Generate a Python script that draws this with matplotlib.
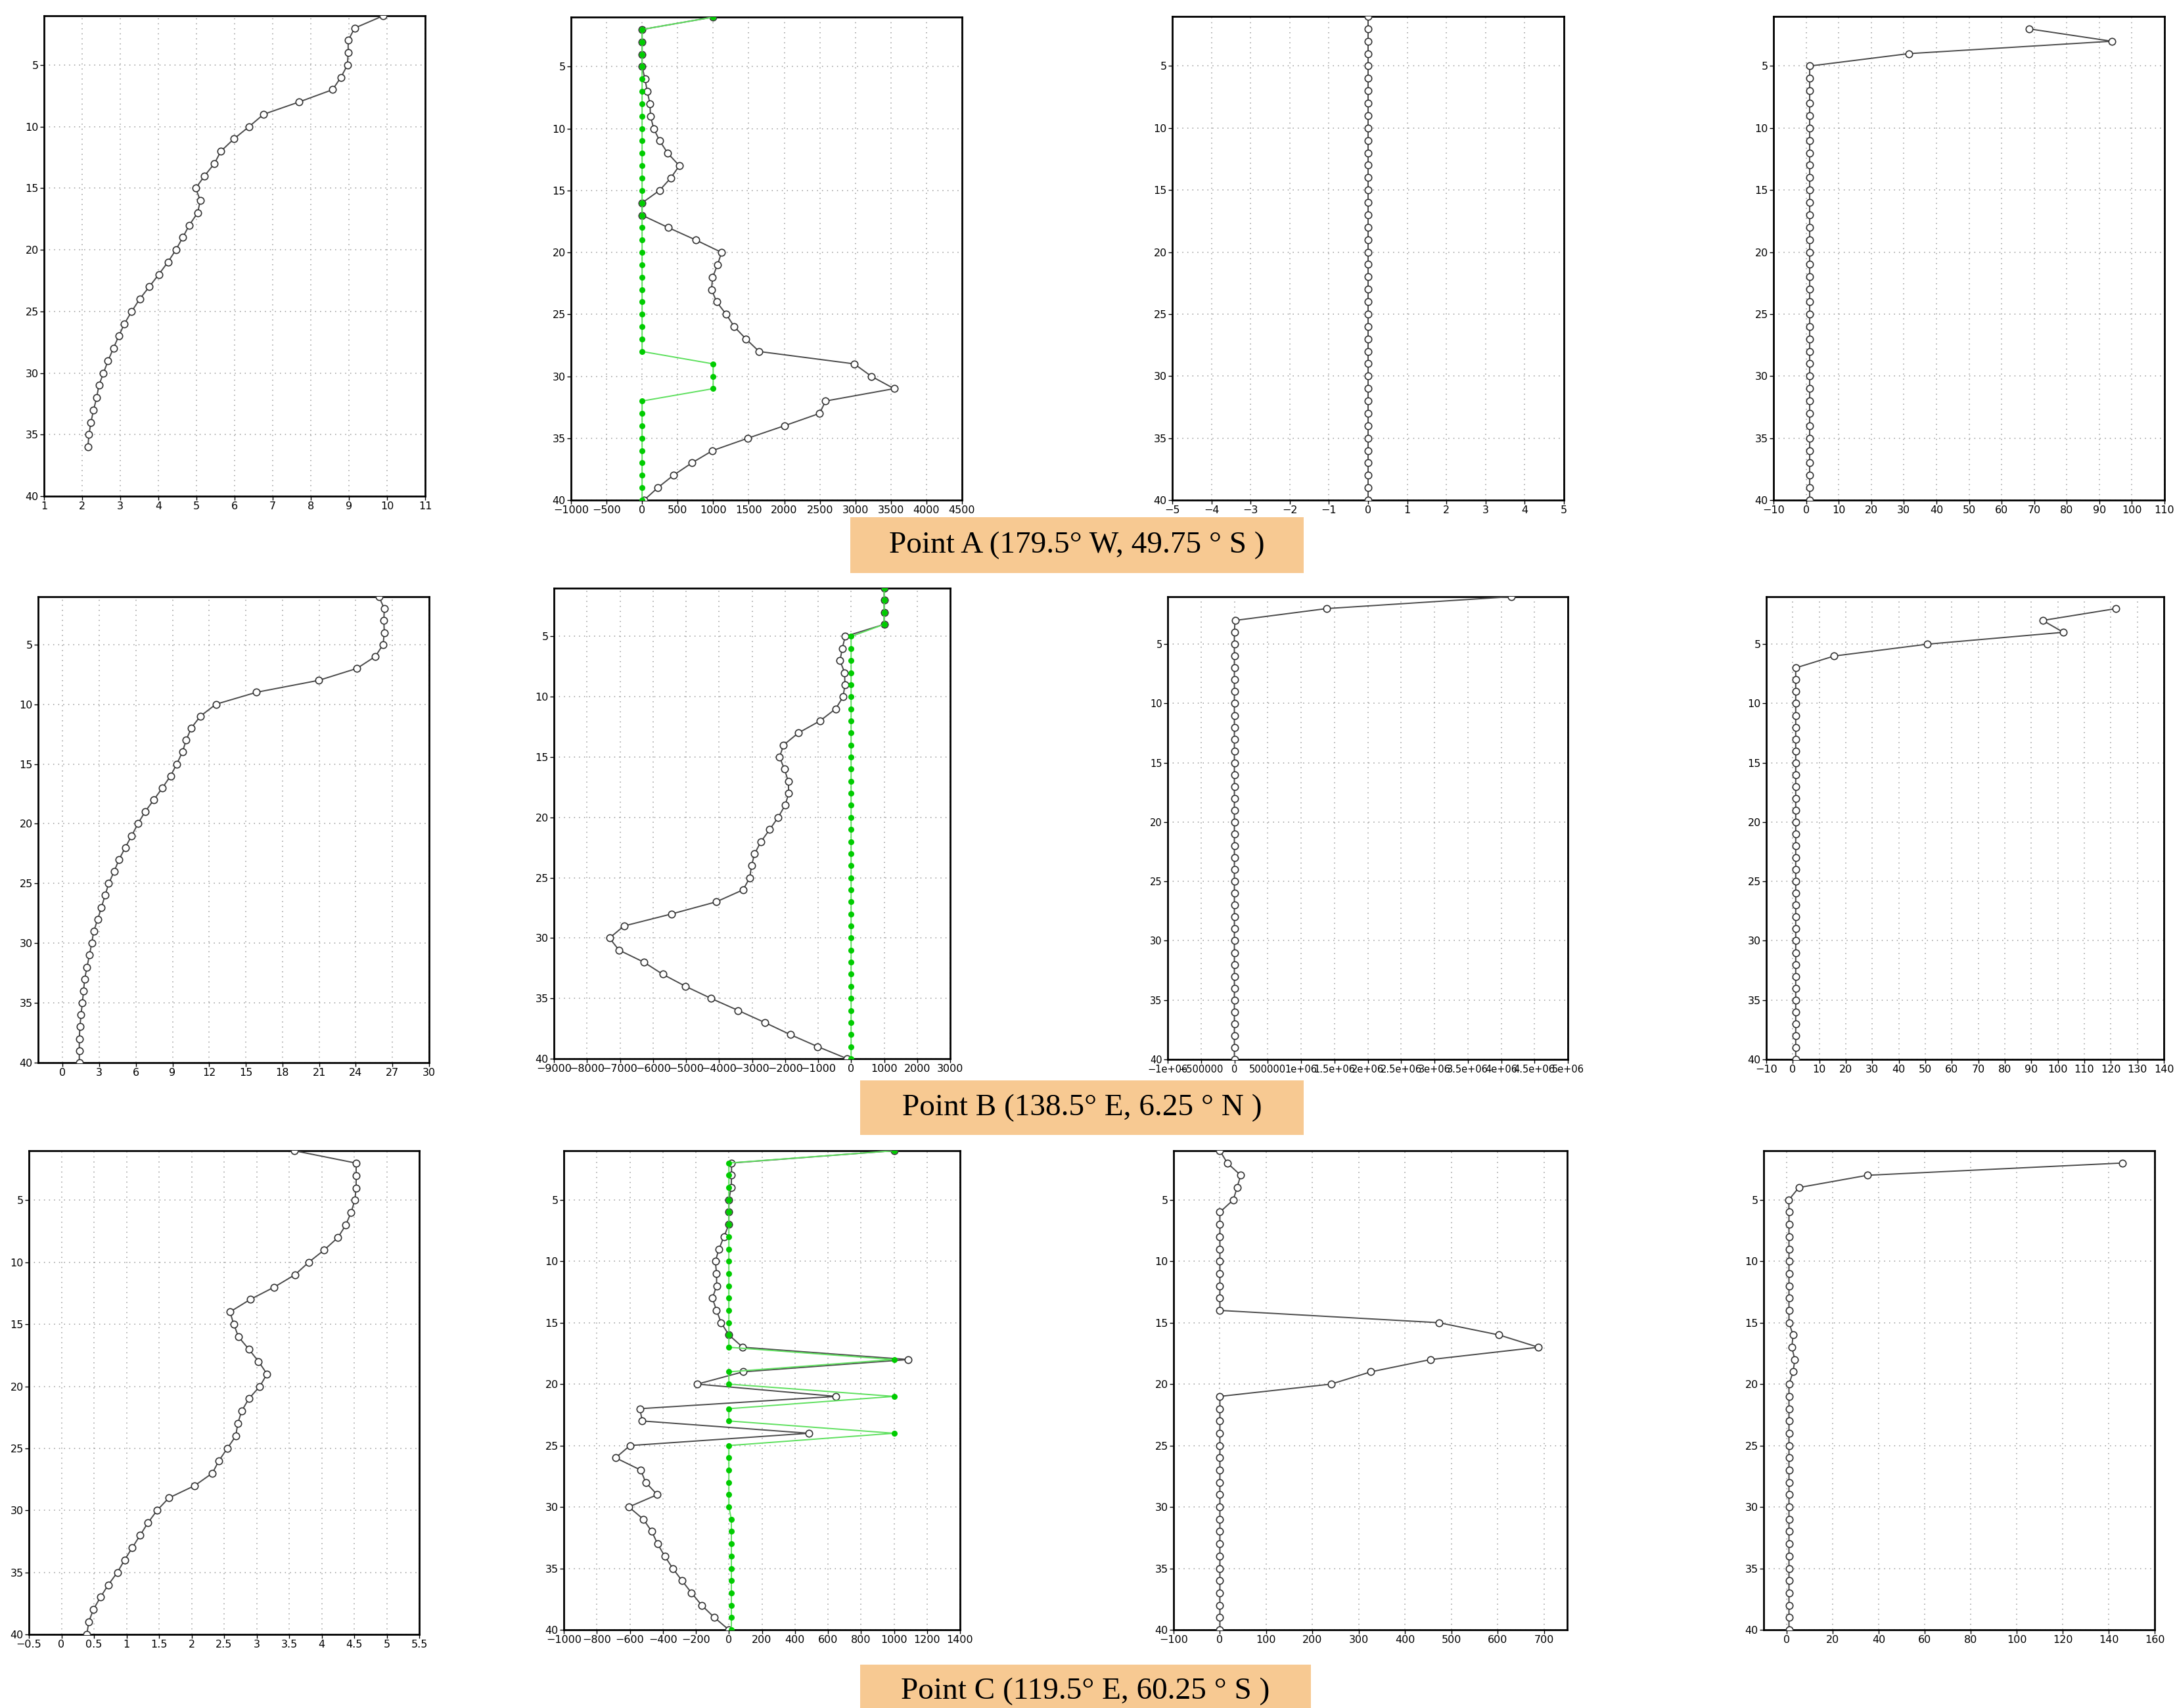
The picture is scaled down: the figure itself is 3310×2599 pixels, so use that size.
import numpy as np
import matplotlib
matplotlib.use("Agg")
import matplotlib.pyplot as plt
from matplotlib.patches import Rectangle
from matplotlib.ticker import FuncFormatter

nan = np.nan

# model levels (y axis, 1 at the top)
levels = list(range(1, 41))

# Point A (179.5 W, 49.75 S)
a_temp = [9.90, 9.15, 8.98, 8.98, 8.96, 8.79, 8.57, 7.69, 6.76, 6.38,
          5.98, 5.64, 5.47, 5.21, 4.98, 5.10, 5.03, 4.81, 4.64, 4.46,
          4.25, 4.01, 3.76, 3.51, 3.30, 3.11, 2.96, 2.82, 2.68, 2.56,
          2.44, 2.38, 2.30, 2.23, 2.18, 2.15, nan, nan, nan, nan]
a_flux = [1000, 0, 0, 0, 0, 40, 73, 110, 118, 163,
          248, 362, 524, 402, 244, 0, 0, 370, 756, 1118,
          1061, 992, 976, 1049, 1183, 1297, 1463, 1646, 2984, 3224,
          3545, 2581, 2496, 2000, 1488, 992, 699, 439, 220, 28]
a_flag = [1000, 0, 0, 0, 0, 0, 0, 0, 0, 0,
          0, 0, 0, 0, 0, 0, 0, 0, 0, 0,
          0, 0, 0, 0, 0, 0, 0, 0, 1000, 1000,
          1000, 0, 0, 0, 0, 0, 0, 0, 0, 0]
a_third = [0, 0, 0, 0, 0, 0, 0, 0, 0, 0,
           0, 0, 0, 0, 0, 0, 0, 0, 0, 0,
           0, 0, 0, 0, 0, 0, 0, 0, 0, 0,
           0, 0, 0, 0, 0, 0, 0, 0, 0, 0]
a_fourth = [nan, 68.4, 93.8, 31.5, 1.1, 1.1, 1.1, 1.1, 1.1, 1.1,
            1.1, 1.1, 1.1, 1.1, 1.1, 1.1, 1.1, 1.1, 1.1, 1.1,
            1.1, 1.1, 1.1, 1.1, 1.1, 1.1, 1.1, 1.1, 1.1, 1.1,
            1.1, 1.1, 1.1, 1.1, 1.1, 1.1, 1.1, 1.1, 1.1, 1.1]

# Point B (138.5 E, 6.25 N)
b_temp = [25.9, 26.33, 26.3, 26.33, 26.24, 25.6, 24.1, 20.97, 15.87, 12.55,
          11.28, 10.53, 10.12, 9.81, 9.35, 8.84, 8.17, 7.47, 6.75, 6.17,
          5.66, 5.13, 4.62, 4.22, 3.78, 3.48, 3.18, 2.88, 2.55, 2.39,
          2.20, 2.00, 1.81, 1.72, 1.62, 1.51, 1.42, 1.37, 1.37, 1.37]
b_flux = [1000, 1000, 1000, 1000, -180, -267, -337, -197, -188, -241,
          -469, -942, -1598, -2045, -2168, -2019, -1905, -1887, -2001, -2211,
          -2465, -2728, -2921, -3017, -3070, -3271, -4086, -5435, -6880, -7318,
          -7029, -6276, -5706, -5014, -4243, -3420, -2614, -1843, -1012, -118]
b_flag = [1000, 1000, 1000, 1000, 0, 0, 0, 0, 0, 0,
          0, 0, 0, 0, 0, 0, 0, 0, 0, 0,
          0, 0, 0, 0, 0, 0, 0, 0, 0, 0,
          0, 0, 0, 0, 0, 0, 0, 0, 0, 0]
b_third = [4.15e6, 1.383e6, 1.0e4, 0, 0, 0, 0, 0, 0, 0,
           0, 0, 0, 0, 0, 0, 0, 0, 0, 0,
           0, 0, 0, 0, 0, 0, 0, 0, 0, 0,
           0, 0, 0, 0, 0, 0, 0, 0, 0, 0]
b_fourth = [nan, 122.0, 94.3, 102.1, 50.8, 15.6, 1.1, 1.1, 1.1, 1.1,
            1.1, 1.1, 1.1, 1.1, 1.1, 1.1, 1.1, 1.1, 1.1, 1.1,
            1.1, 1.1, 1.1, 1.1, 1.1, 1.1, 1.1, 1.1, 1.1, 1.1,
            1.1, 1.1, 1.1, 1.1, 1.1, 1.1, 1.1, 1.1, 1.1, 1.1]

# Point C (119.5 E, 60.25 S)
c_temp = [3.58, 4.53, 4.53, 4.53, 4.51, 4.45, 4.37, 4.25, 4.04, 3.80,
          3.59, 3.27, 2.90, 2.59, 2.65, 2.72, 2.88, 3.03, 3.16, 3.05,
          2.88, 2.77, 2.71, 2.68, 2.55, 2.42, 2.32, 2.05, 1.65, 1.47,
          1.33, 1.21, 1.09, 0.97, 0.86, 0.72, 0.60, 0.49, 0.42, 0.39]
c_flux = [1000, 16, 16, 14, 0, 0, 0, -30, -60, -82,
          -75, -74, -100, -75, -47, 0, 84, 1087, 86, -191,
          648, -539, -525, 483, -599, -686, -534, -504, -434, -606,
          -518, -467, -432, -389, -340, -284, -226, -165, -88, 0]
c_flag = [1000, 0, 0, 0, 0, 0, 0, 0, 0, 0,
          0, 0, 0, 0, 0, 0, 0, 1000, 0, 0,
          1000, 0, 0, 1000, 0, 0, 0, 0, 0, 0,
          15, 15, 15, 15, 15, 15, 15, 15, 15, 15]
c_third = [0, 16, 45, 37, 29, 0, 0, 0, 0, 0,
           0, 0, 0, 0, 473, 603, 688, 455, 326, 240,
           0, 0, 0, 0, 0, 0, 0, 0, 0, 0,
           0, 0, 0, 0, 0, 0, 0, 0, 0, 0]
c_fourth = [nan, 146.1, 35.1, 5.3, 0.95, 1.0, 1.0, 1.0, 1.0, 1.0,
            1.0, 1.0, 1.0, 1.0, 1.0, 2.8, 2.25, 3.55, 2.8, 1.0,
            1.0, 1.0, 1.0, 1.0, 1.0, 1.0, 1.0, 1.0, 1.0, 1.0,
            1.0, 1.0, 1.0, 1.0, 1.0, 1.0, 1.0, 1.0, 1.0, 1.0]

point_labels = ["Point A (179.5° W, 49.75 ° S )",
                "Point B (138.5° E, 6.25 ° N )",
                "Point C (119.5° E, 60.25 ° S )"]

W, H = 3310, 2599
fig = plt.figure(figsize=(W / 100, H / 100), dpi=100)

fmt = FuncFormatter(lambda v, p: ("%g" % v).replace("-", "\u2212"))


def add_panel(box, xlim, xticks, values, green=None, labelsize=11.5):
    # box in pixels: left, top, right, bottom
    l, t, r, b = box
    ax = fig.add_axes([l / W, 1 - b / H, (r - l) / W, (b - t) / H])
    ax.plot(values, levels, color="#4a4a4a", lw=1.4, marker="o", ms=7.5,
            mfc="white", mec="#333333", mew=1.2, zorder=3)
    if green is not None:
        ax.plot(green, levels, color="#5ee05e", lw=1.4, marker="o", ms=6.5,
                mfc="#00cc00", mec="#00cc00", mew=0, zorder=4)
    ax.set_xlim(*xlim)
    ax.set_ylim(40, 1)
    ax.set_xticks(xticks)
    ax.set_yticks([5, 10, 15, 20, 25, 30, 35, 40])
    ax.xaxis.set_major_formatter(fmt)
    ax.yaxis.set_major_formatter(fmt)
    ax.grid(True, linestyle=(0, (1, 4)), color="#999999", lw=1.1)
    ax.tick_params(labelsize=labelsize, length=4, width=1, direction="out", pad=2)
    for s in ax.spines.values():
        s.set_linewidth(2)
    return ax


# row A
add_panel((67, 24, 647, 755), (1, 11), np.arange(1, 12), a_temp)
add_panel((869, 26, 1464, 761), (-1000, 4500), np.arange(-1000, 4501, 500), a_flux, a_flag)
add_panel((1784, 25, 2380, 761), (-5, 5), np.arange(-5, 6), a_third)
add_panel((2699, 25, 3294, 761), (-10, 110), np.arange(-10, 111, 10), a_fourth)

# row B
add_panel((58, 908, 653, 1617), (-2, 30), np.arange(0, 31, 3), b_temp)
add_panel((843, 895, 1446, 1611), (-9000, 3000), np.arange(-9000, 3001, 1000), b_flux, b_flag)
add_panel((1777, 908, 2386, 1612), (-1e6, 5e6), np.arange(-1e6, 5.01e6, 5e5), b_third,
          labelsize=10.5)
add_panel((2688, 908, 3293, 1612), (-10, 140), np.arange(-10, 141, 10), b_fourth)

# row C
add_panel((44, 1751, 638, 2487), (-0.5, 5.5), np.arange(-0.5, 5.51, 0.5), c_temp)
add_panel((858, 1751, 1461, 2480), (-1000, 1400), np.arange(-1000, 1401, 200), c_flux, c_flag)
add_panel((1786, 1751, 2385, 2480), (-100, 750), np.arange(-100, 701, 100), c_third)
add_panel((2684, 1751, 3279, 2480), (-10, 160), np.arange(0, 161, 20), c_fourth)

# point label boxes
label_boxes = [(1294, 787, 1984, 872), (1309, 1644, 1984, 1727), (1309, 2533, 1995, 2640)]
label_y = [830, 1686, 2574]
for (l, t, r, b), yc, txt in zip(label_boxes, label_y, point_labels):
    fig.patches.append(Rectangle((l / W, 1 - b / H), (r - l) / W, (b - t) / H,
                                 transform=fig.transFigure, facecolor="#f7c992",
                                 edgecolor="none", zorder=0))
    fig.text((l + r) / 2 / W, 1 - yc / H, txt, ha="center", va="center",
             fontsize=34, family="Liberation Serif")

fig.savefig("out.png", dpi=100)
